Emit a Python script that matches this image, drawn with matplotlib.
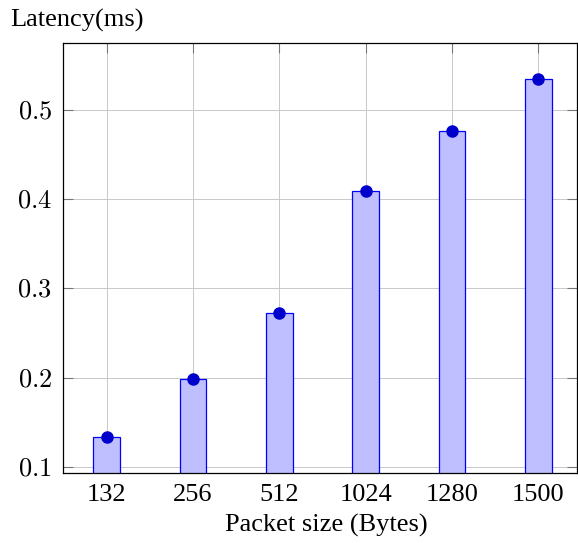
import numpy as np
import matplotlib.pyplot as plt

# Packet sizes and measured latency
packet_sizes = ['132', '256', '512', '1024', '1280', '1500']
latency_ms = [0.133, 0.199, 0.272, 0.409, 0.477, 0.535]
y_ticks = [0.1, 0.2, 0.3, 0.4, 0.5]

plt.rcParams['font.family'] = ['Liberation Serif', 'DejaVu Serif']
plt.rcParams['mathtext.fontset'] = 'cm'
plt.rcParams['font.size'] = 19

fig = plt.figure(figsize=(5.78, 5.43), dpi=100)
ax = fig.add_axes([0.109, 0.1295, 0.8898, 0.7922])

x = np.arange(len(packet_sizes))
ax.bar(x, latency_ms, width=0.31, color='#bfbfff', edgecolor='#0000ff',
       linewidth=0.9, zorder=2)
ax.plot(x, latency_ms, 'o', color='#0000cc', markersize=8, zorder=3)

ax.set_xlim(-0.506, 5.45)
ax.set_ylim(0.0935, 0.5757)
ax.set_xticks(x)
ax.set_xticklabels(packet_sizes)
ax.set_yticks(y_ticks)
ax.set_yticklabels(['$%.1f$' % v for v in y_ticks])

ax.grid(True, color='#c8c8c8', linewidth=0.7, zorder=0)
ax.set_axisbelow(True)
ax.tick_params(direction='in', length=7.5, width=0.8, color='#777777',
               top=True, right=True, pad=8)
for s in ax.spines.values():
    s.set_linewidth(0.9)
    s.set_zorder(4)

fig.text(326 / 578, 1 - 525 / 543, 'Packet size (Bytes)', ha='center', va='center')
fig.text(10 / 578, 1 - 20 / 543, 'Latency(ms)', ha='left', va='center')

fig.savefig('out.png', dpi=100)
